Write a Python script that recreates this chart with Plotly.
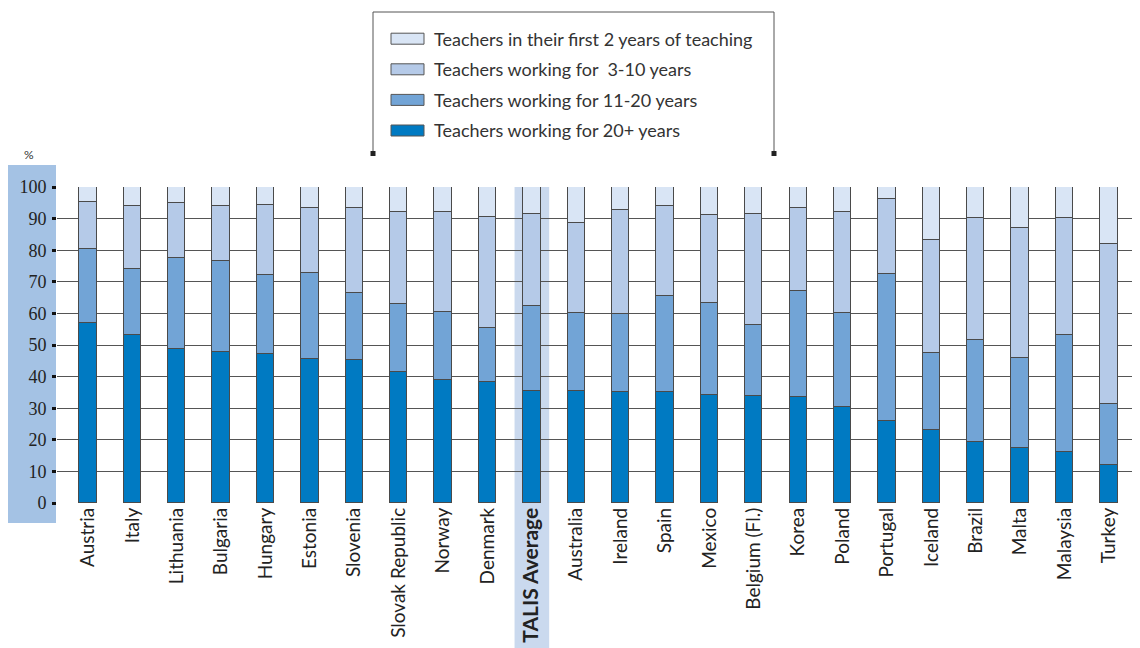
import plotly.graph_objects as go

countries = ["Austria", "Italy", "Lithuania", "Bulgaria", "Hungary", "Estonia", "Slovenia",
             "Slovak Republic", "Norway", "Denmark", "TALIS Average", "Australia", "Ireland",
             "Spain", "Mexico", "Belgium (Fl.)", "Korea", "Poland", "Portugal", "Iceland",
             "Brazil", "Malta", "Malaysia", "Turkey"]

years_20plus = [56.9, 53.3, 48.6, 47.8, 47.2, 45.5, 45.1, 41.3, 38.9, 38.4, 35.4, 35.4, 35.1,
                35.1, 34.1, 33.8, 33.7, 30.4, 26.1, 23.1, 19.2, 17.3, 16.1, 12.0]
years_11_20 = [23.4, 20.9, 28.8, 28.9, 25.0, 27.2, 21.5, 21.7, 21.5, 16.9, 27.0, 24.8, 24.6,
               30.5, 29.3, 22.5, 33.5, 29.6, 46.4, 24.5, 32.3, 28.5, 37.1, 19.3]
years_3_10 = [15.1, 19.7, 17.6, 17.3, 22.0, 20.6, 26.9, 29.1, 31.7, 35.2, 29.2, 28.4, 33.1,
              28.5, 27.7, 35.1, 26.1, 32.1, 23.6, 35.6, 38.8, 41.2, 37.0, 50.6]
first_2_years = [4.6, 6.1, 5.0, 6.0, 5.8, 6.7, 6.5, 7.9, 7.9, 9.5, 8.4, 11.4, 7.2,
                 5.9, 8.9, 8.6, 6.7, 7.9, 3.9, 16.8, 9.7, 13.0, 9.8, 18.1]

y_ticks = [0, 10, 20, 30, 40, 50, 60, 70, 80, 90, 100]

series = [
    ("Teachers working for 20+ years", years_20plus, "#007ac2"),
    ("Teachers working for 11-20 years", years_11_20, "#72a4d6"),
    ("Teachers working for  3-10 years", years_3_10, "#b5cae8"),
    ("Teachers in their first 2 years of teaching", first_2_years, "#d9e5f5"),
]

# page has an 8px body margin; figure sized so it ends at the window edge
OFF = 8
W, H = 1140 - OFF, 648 - OFF
L, R, T, B = 49, 0, 179, 145
PW, PH = W - L - R, H - T - B


def px(x):  # page pixel x -> paper
    return (x - OFF - L) / PW


def py(y):  # page pixel y -> paper
    return (H - B - (y - OFF)) / PH


fig = go.Figure()
for name, vals, col in series:
    fig.add_trace(go.Bar(
        x=countries, y=vals, name=name, width=0.39,
        marker=dict(color=col, line=dict(color="#4a4a4a", width=1)),
        showlegend=False,
    ))

ticktext = [("<b><span style='font-size:21px'>%s</span></b>" % c) if c == "TALIS Average" else c
            for c in countries]

shapes = []
idx = countries.index("TALIS Average")
shapes.append(dict(type="rect", xref="x", yref="paper", x0=idx - 0.39, x1=idx + 0.39,
                   y0=py(648), y1=1, fillcolor="#cad9ee", line=dict(width=0), layer="below"))
shapes.append(dict(type="rect", xref="paper", yref="paper", x0=px(7.5), x1=px(56),
                   y0=py(523), y1=py(165), fillcolor="#a4c2e4", line=dict(width=0), layer="below"))
for (x0, y0, x1, y1) in [(373, 12, 774, 12), (373, 12, 373, 153), (774, 12, 774, 153)]:
    shapes.append(dict(type="line", xref="paper", yref="paper", x0=px(x0), x1=px(x1),
                       y0=py(y0), y1=py(y1), line=dict(color="#555", width=1)))
for cx in (373, 774):
    shapes.append(dict(type="rect", xref="paper", yref="paper", x0=px(cx - 2.5), x1=px(cx + 2.5),
                       y0=py(156), y1=py(151), fillcolor="#222", line=dict(width=0)))

annotations = []
legend_rows = list(reversed(series))
row_y = [38.7, 69.3, 99.9, 130.5]
for (name, vals, col), yy in zip(legend_rows, row_y):
    shapes.append(dict(type="rect", xref="paper", yref="paper", x0=px(391), x1=px(424),
                       y0=py(yy + 5.5), y1=py(yy - 5.5), fillcolor=col,
                       line=dict(color="#555", width=1)))
    annotations.append(dict(xref="paper", yref="paper", x=px(432), y=py(yy), text=name,
                            showarrow=False, xanchor="left", yanchor="middle",
                            font=dict(family="Lato", size=18, color="#333")))
annotations.append(dict(xref="paper", yref="paper", x=px(29), y=py(154), text="%",
                        showarrow=False, xanchor="center", yanchor="middle",
                        font=dict(family="Lato", size=12, color="#333")))

fig.update_layout(
    width=W, height=H,
    margin=dict(l=L, r=R, t=T, b=B, pad=0),
    barmode="stack", bargap=0,
    paper_bgcolor="white", plot_bgcolor="white",
    shapes=shapes, annotations=annotations,
    showlegend=False,
)
fig.update_xaxes(
    type="category", range=[-0.698, 23.70], tickmode="array",
    tickvals=countries, ticktext=ticktext, tickangle=-90,
    tickfont=dict(family="Lato", size=19, color="#222"),
    showgrid=False, showline=False, ticks="", zeroline=False,
)
fig.update_yaxes(
    range=[0, 100], tickmode="array", tickvals=y_ticks,
    tickfont=dict(family="Liberation Serif", size=18, color="#222"),
    ticks="outside", ticklen=4, tickwidth=3, tickcolor="#111",
    showgrid=True, gridcolor="#555", gridwidth=1, zeroline=False,
    showline=False, ticklabelstandoff=2,
    tickprefix="<b>", ticksuffix="</b>",
)
fig.write_html("out.html")
